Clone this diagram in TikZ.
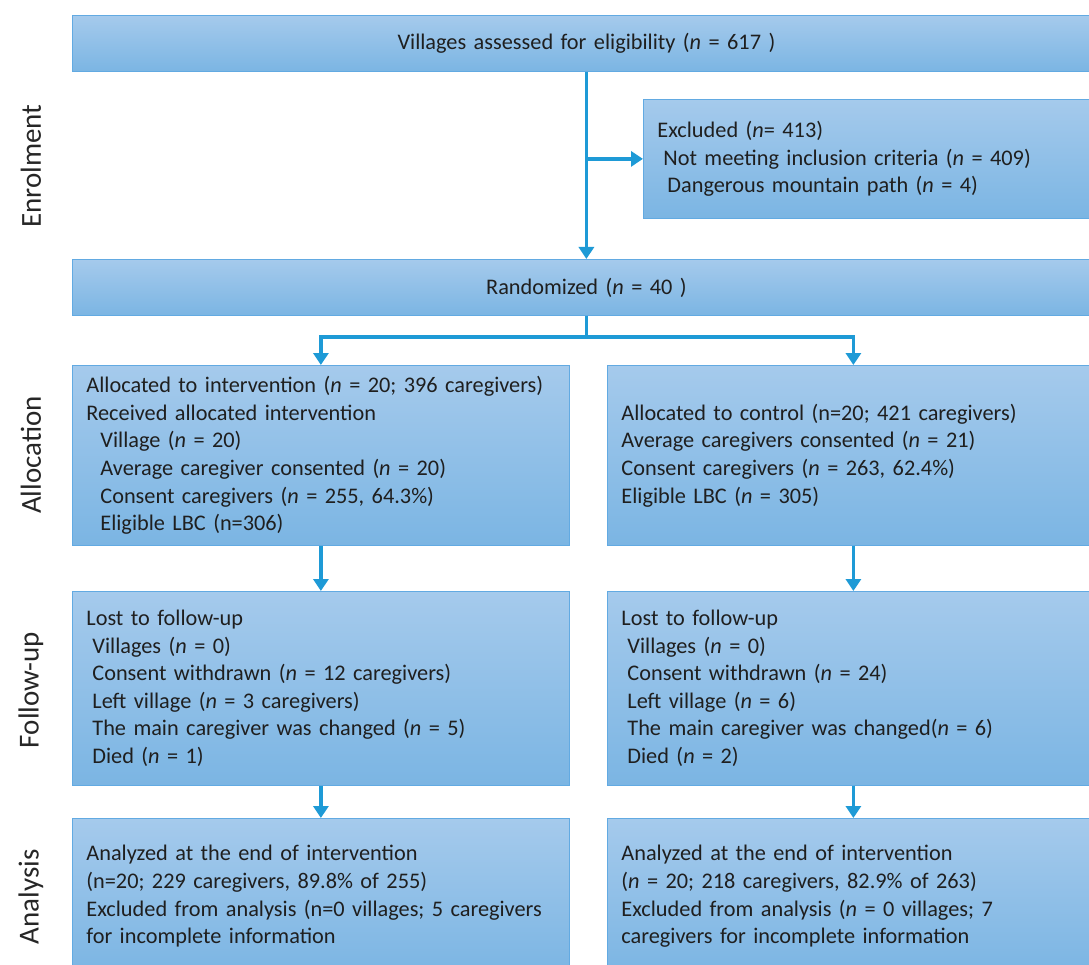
\documentclass[tikz,border=0pt]{standalone}
\usepackage{fontspec}
\setmainfont{Carlito}
\usetikzlibrary{arrows.meta}
\definecolor{boxtop}{HTML}{A5CAEC}
\definecolor{boxbottom}{HTML}{7BB5E3}
\definecolor{boxline}{HTML}{62AAE2}
\definecolor{arrowblue}{HTML}{1E9AD6}
\newcommand{\nit}{\emph{n}}
\newcommand{\indentby}[1]{\hspace*{#1pt}}
\tikzset{
  stagebox/.style={draw=boxline, line width=0.8pt, top color=boxtop, bottom color=boxbottom,
    anchor=north west, inner xsep=14pt, inner ysep=0pt, align=left, text=black!88,
    font=\fontsize{22.3}{27.6}\selectfont},
  flowarrow/.style={draw=arrowblue, line width=3.8pt, -{Triangle[length=12pt,width=15pt]}},
  phase/.style={rotate=90, font=\fontsize{29}{32}\selectfont, text=black!85}
}
\begin{document}
\begin{tikzpicture}[x=1pt,y=-1pt]
    \useasboundingbox (0,0) rectangle (1089,965);
    \clip (0,0) rectangle (1089,965);
    % stage labels
    \node[phase] (enrol) at (31,166) {Enrolment};
    \node[phase] (alloc) at (31,455) {Allocation};
    \node[phase] (follow) at (31,690) {Follow-up};
    \node[phase] (anal) at (31,897) {Analysis};
    % enrolment
    \node[stagebox, align=center, text width=1000pt, minimum height=56pt] (villages) at (72,15)
        {Villages assessed for eligibility (\nit{} = 617 )};
    \node[stagebox, text width=429pt, minimum height=119pt] (excluded) at (643,99)
        {Excluded (\nit= 413)\\
         \indentby{6}Not meeting inclusion criteria (\nit{} = 409)\\
         \indentby{10}Dangerous mountain path (\nit{} = 4)};
    \node[stagebox, align=center, text width=1000pt, minimum height=56pt] (rand) at (72,259)
        {Randomized (\nit{} = 40 )};
    % allocation
    \node[stagebox, text width=469pt, minimum height=180pt] (allocint) at (72,365)
        {Allocated to intervention (\nit{} = 20; 396 caregivers)\\
         Received allocated intervention\\
         \indentby{14}Village (\nit{} = 20)\\
         \indentby{14}Average caregiver consented (\nit{} = 20)\\
         \indentby{14}Consent caregivers (\nit{} = 255, 64.3\%)\\
         \indentby{14}Eligible LBC (n=306)};
    \node[stagebox, text width=464pt, minimum height=180pt] (allocctl) at (607,365)
        {Allocated to control (n=20; 421 caregivers)\\
         Average caregivers consented (\nit{} = 21)\\
         Consent caregivers (\nit{} = 263, 62.4\%)\\
         Eligible LBC (\nit{} = 305)};
    % follow-up
    \node[stagebox, text width=469pt, minimum height=194pt] (followint) at (72,591)
        {Lost to follow-up\\
         \indentby{6}Villages (\nit{} = 0)\\
         \indentby{6}Consent withdrawn (\nit{} = 12 caregivers)\\
         \indentby{6}Left village (\nit{} = 3 caregivers)\\
         \indentby{6}The main caregiver was changed (\nit{} = 5)\\
         \indentby{6}Died (\nit{} = 1)};
    \node[stagebox, text width=464pt, minimum height=194pt] (followctl) at (607,591)
        {Lost to follow-up\\
         \indentby{6}Villages (\nit{} = 0)\\
         \indentby{6}Consent withdrawn (\nit{} = 24)\\
         \indentby{6}Left village (\nit{} = 6)\\
         \indentby{6}The main caregiver was changed(\nit{} = 6)\\
         \indentby{6}Died (\nit{} = 2)};
    % analysis
    \node[stagebox, text width=469pt, minimum height=156pt] (analint) at (72,818)
        {Analyzed at the end of intervention\\
         (n=20; 229 caregivers, 89.8\% of 255)\\
         Excluded from analysis (n=0 villages; 5 caregivers\\
         for incomplete information};
    \node[stagebox, text width=464pt, minimum height=156pt] (analctl) at (607,818)
        {Analyzed at the end of intervention\\
         (\nit{} = 20; 218 caregivers, 82.9\% of 263)\\
         Excluded from analysis (\nit{} = 0 villages; 7\\
         caregivers for incomplete information};
    % arrows
    \draw[flowarrow] (villages.south) -- (rand.north);
    \draw[flowarrow] (villages.south |- excluded.west) -- (excluded.west);
    \draw[flowarrow] (rand.south) -- ++(0,21) -| (allocint.north);
    \draw[flowarrow] (rand.south) -- ++(0,21) -| (allocctl.north);
    \draw[flowarrow] (allocint) -- (followint);
    \draw[flowarrow] (allocctl) -- (followctl);
    \draw[flowarrow] (followint) -- (analint);
    \draw[flowarrow] (followctl) -- (analctl);
\end{tikzpicture}
\end{document}
